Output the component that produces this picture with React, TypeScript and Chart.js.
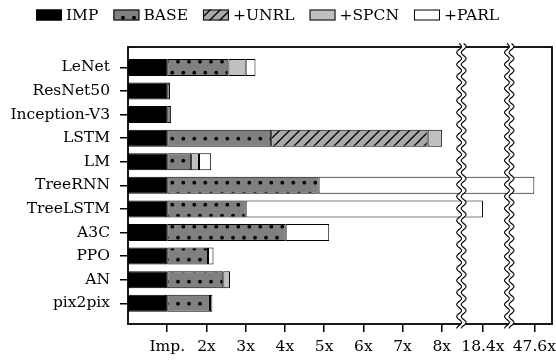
import React, { useEffect, useRef } from 'react';
import { Chart, registerables, LinearScale } from 'chart.js';

// ---------------- data ----------------
const categories = ['LeNet', 'ResNet50', 'Inception-V3', 'LSTM', 'LM', 'TreeRNN', 'TreeLSTM', 'A3C', 'PPO', 'AN', 'pix2pix'];
const seriesNames = ['IMP', 'BASE', '+UNRL', '+SPCN', '+PARL'];
// cumulative speedup (x, relative to IMP) after each stage
const impSpeedup = [1, 1, 1, 1, 1, 1, 1, 1, 1, 1, 1];
const baseSpeedup = [2.56, 1.07, 1.1, 3.65, 1.61, 4.86, 3.0, 4.02, 2.04, 2.43, 2.09];
const unrlSpeedup = [2.56, 1.07, 1.1, 7.64, 1.61, 4.86, 3.0, 4.02, 2.04, 2.43, 2.09];
const spcnSpeedup = [3.0, 1.07, 1.1, 8.1, 1.81, 4.86, 3.0, 4.02, 2.04, 2.6, 2.09];
const parlSpeedup = [3.25, 1.07, 1.1, 8.1, 2.12, 47.6, 18.4, 5.13, 2.18, 2.6, 2.15];
const xTickValues = [1, 2, 3, 4, 5, 6, 7, 8, 18.4, 47.6];
const xTickLabels = ['Imp.', '2x', '3x', '4x', '5x', '6x', '7x', '8x', '18.4x', '47.6x'];

// ---------------- broken axis mapping ----------------
const realAnchors = [0, 8, 18.4, 47.6];
const axisAnchors = [0, 8, 9.05, 10.36];
const AXIS_MAX = 10.81;
const breakAxisPositions = [8.5, 9.72];

function toAxis(v: number) {
  const n = realAnchors.length;
  for (let i = 1; i < n; i++) {
    if (v <= realAnchors[i] || i === n - 1) {
      const r0 = realAnchors[i - 1], r1 = realAnchors[i];
      const a0 = axisAnchors[i - 1], a1 = axisAnchors[i];
      return a0 + (v - r0) * (a1 - a0) / (r1 - r0);
    }
  }
  return v;
}
function fromAxis(a: number) {
  const n = axisAnchors.length;
  for (let i = 1; i < n; i++) {
    if (a <= axisAnchors[i] || i === n - 1) {
      const r0 = realAnchors[i - 1], r1 = realAnchors[i];
      const a0 = axisAnchors[i - 1], a1 = axisAnchors[i];
      return r0 + (a - a0) * (r1 - r0) / (a1 - a0);
    }
  }
  return a;
}

class BrokenLinearScale extends LinearScale {
  static id = 'brokenLinear';
  static defaults = (LinearScale as any).defaults;
  getPixelForValue(value: any) {
    const s: any = this;
    if (value === null || value === undefined) return NaN;
    return this.getPixelForDecimal((toAxis(value) - s._startValue) / s._valueRange);
  }
  getValueForPixel(pixel: number) {
    const s: any = this;
    return fromAxis(s._startValue + this.getDecimalForPixel(pixel) * s._valueRange);
  }
}

Chart.register(...registerables, BrokenLinearScale as any);

const FONT_FAMILY = '"DejaVu Serif", serif';
const FONT_SIZE = 15.5;

function makeDots(ctx: CanvasRenderingContext2D) {
  const c = document.createElement('canvas');
  c.width = 11; c.height = 22;
  const g = c.getContext('2d')!;
  g.fillStyle = '#808080';
  g.fillRect(0, 0, 11, 22);
  g.fillStyle = '#000';
  for (const [x, y] of [[7.3, 6.7], [2.0, 17.7]]) {
    g.beginPath();
    g.arc(x, y, 1.9, 0, Math.PI * 2);
    g.fill();
  }
  return ctx.createPattern(c, 'repeat')!;
}

function makeHatch(ctx: CanvasRenderingContext2D) {
  const c = document.createElement('canvas');
  c.width = 10; c.height = 10;
  const g = c.getContext('2d')!;
  g.fillStyle = '#a9a9a9';
  g.fillRect(0, 0, 10, 10);
  g.strokeStyle = '#000';
  g.lineWidth = 1.3;
  for (const off of [-10, 0, 10]) {
    g.beginPath();
    g.moveTo(off - 1, 11);
    g.lineTo(off + 11, -1);
    g.stroke();
  }
  return ctx.createPattern(c, 'repeat')!;
}

export default function App() {
  const ref = useRef<HTMLCanvasElement>(null);
  useEffect(() => {
    const canvas = ref.current!;
    const ctx = canvas.getContext('2d')!;
    const fills: any[] = ['#000000', makeDots(ctx), makeHatch(ctx), '#c0c0c0', '#ffffff'];
    const stages = [impSpeedup, baseSpeedup, unrlSpeedup, spcnSpeedup, parlSpeedup];

    const datasets = stages.map((arr, s) => ({
      label: seriesNames[s],
      data: categories.map((_, i) => ({
        y: i,
        x: s === 0 ? arr[i] : +(arr[i] - stages[s - 1][i]).toFixed(4),
      })),
      backgroundColor: fills[s],
      borderColor: '#000',
      borderWidth: 1,
      borderSkipped: false,
      barThickness: 17,
      inflateAmount: 0,
    }));

    const framePlugin = {
      id: 'frameAndBreaks',
      afterDatasetsDraw(chart: any) {
        const { ctx: c, chartArea: a } = chart;
        const xs = chart.scales.x;
        c.save();
        c.strokeStyle = '#000';
        c.lineWidth = 1.8;
        c.strokeRect(a.left, a.top, a.right - a.left, a.bottom - a.top);
        const top = a.top - 3.5, bottom = a.bottom + 4.5;
        const amp = 2.4, period = 12, half = 2.3;
        breakAxisPositions.forEach((p) => {
          const cx = xs.getPixelForDecimal(p / AXIS_MAX);
          const wave = (y: number) => cx + amp * Math.sin((2 * Math.PI * (y - top)) / period);
          c.beginPath();
          for (let y = top; y <= bottom; y += 0.5) c.lineTo(wave(y) - half, y);
          for (let y = bottom; y >= top; y -= 0.5) c.lineTo(wave(y) + half, y);
          c.closePath();
          c.fillStyle = '#fff';
          c.fill();
          c.lineWidth = 1.1;
          c.strokeStyle = '#000';
          for (const sgn of [-1, 1]) {
            c.beginPath();
            for (let y = top; y <= bottom; y += 0.5) {
              if (y === top) c.moveTo(wave(y) + sgn * half, y);
              else c.lineTo(wave(y) + sgn * half, y);
            }
            c.stroke();
          }
        });
        c.restore();
      },
      afterDraw(chart: any) {
        const c = chart.ctx;
        c.save();
        c.font = `${FONT_SIZE}px ${FONT_FAMILY}`;
        c.textBaseline = 'middle';
        c.textAlign = 'left';
        let x = 36;
        const boxW = 26, boxH = 11, boxY = 9.5, textY = 15.5;
        seriesNames.forEach((name, i) => {
          c.fillStyle = fills[i];
          c.fillRect(x, boxY, boxW, boxH);
          c.lineWidth = 1;
          c.strokeStyle = '#000';
          c.strokeRect(x + 0.5, boxY + 0.5, boxW - 1, boxH - 1);
          c.fillStyle = '#000';
          c.fillText(name, x + boxW + 4, textY);
          x += boxW + 4 + c.measureText(name).width + 15;
        });
        c.restore();
      },
    };

    const chart = new Chart(ctx, {
      type: 'bar',
      data: { labels: categories, datasets: datasets as any },
      plugins: [framePlugin],
      options: {
        indexAxis: 'y',
        animation: false,
        responsive: false,
        events: [],
        layout: { padding: { top: 47, right: 4, left: 0, bottom: 0 } },
        font: { family: FONT_FAMILY, size: FONT_SIZE },
        plugins: { legend: { display: false }, tooltip: { enabled: false } },
        scales: {
          x: {
            type: 'brokenLinear' as any,
            min: 0,
            max: AXIS_MAX,
            stacked: true,
            offset: false,
            border: { display: false },
            grid: { display: true, offset: false, drawOnChartArea: false, drawTicks: true, tickLength: 8, color: '#000', lineWidth: 1.5 },
            afterBuildTicks: (s: any) => { s.ticks = xTickValues.map((v) => ({ value: v })); },
            afterFit: (s: any) => { s.paddingLeft = 0; s.paddingRight = 0; s.height = 36; },
            ticks: {
              autoSkip: false,
              maxRotation: 0,
              minRotation: 0,
              padding: 6,
              color: '#000',
              font: { family: FONT_FAMILY, size: FONT_SIZE },
              callback: (v: any) => {
                const idx = xTickValues.indexOf(v);
                return idx >= 0 ? xTickLabels[idx] : '';
              },
            },
          } as any,
          y: {
            type: 'linear',
            reverse: true,
            min: -0.864,
            max: 10.877,
            stacked: true,
            offset: false,
            grace: 0,
            border: { display: false },
            grid: { display: true, offset: false, drawOnChartArea: false, drawTicks: true, tickLength: 8, color: '#000', lineWidth: 1.5 },
            afterBuildTicks: (s: any) => { s.ticks = categories.map((_, i) => ({ value: i })); },
            afterFit: (s: any) => { s.width = 128; s.paddingTop = 0; s.paddingBottom = 0; },
            ticks: {
              autoSkip: false,
              padding: 10,
              color: '#000',
              font: { family: FONT_FAMILY, size: FONT_SIZE },
              callback: (v: any) => categories[v] ?? '',
            },
          } as any,
        },
      } as any,
    });
    return () => chart.destroy();
  }, []);

  return (
    <div style={{ position: 'fixed', left: 0, top: 0, width: 556, height: 360, background: '#fff' }}>
      <canvas ref={ref} width={556} height={360} style={{ display: 'block', width: 556, height: 360 }} />
    </div>
  );
}
